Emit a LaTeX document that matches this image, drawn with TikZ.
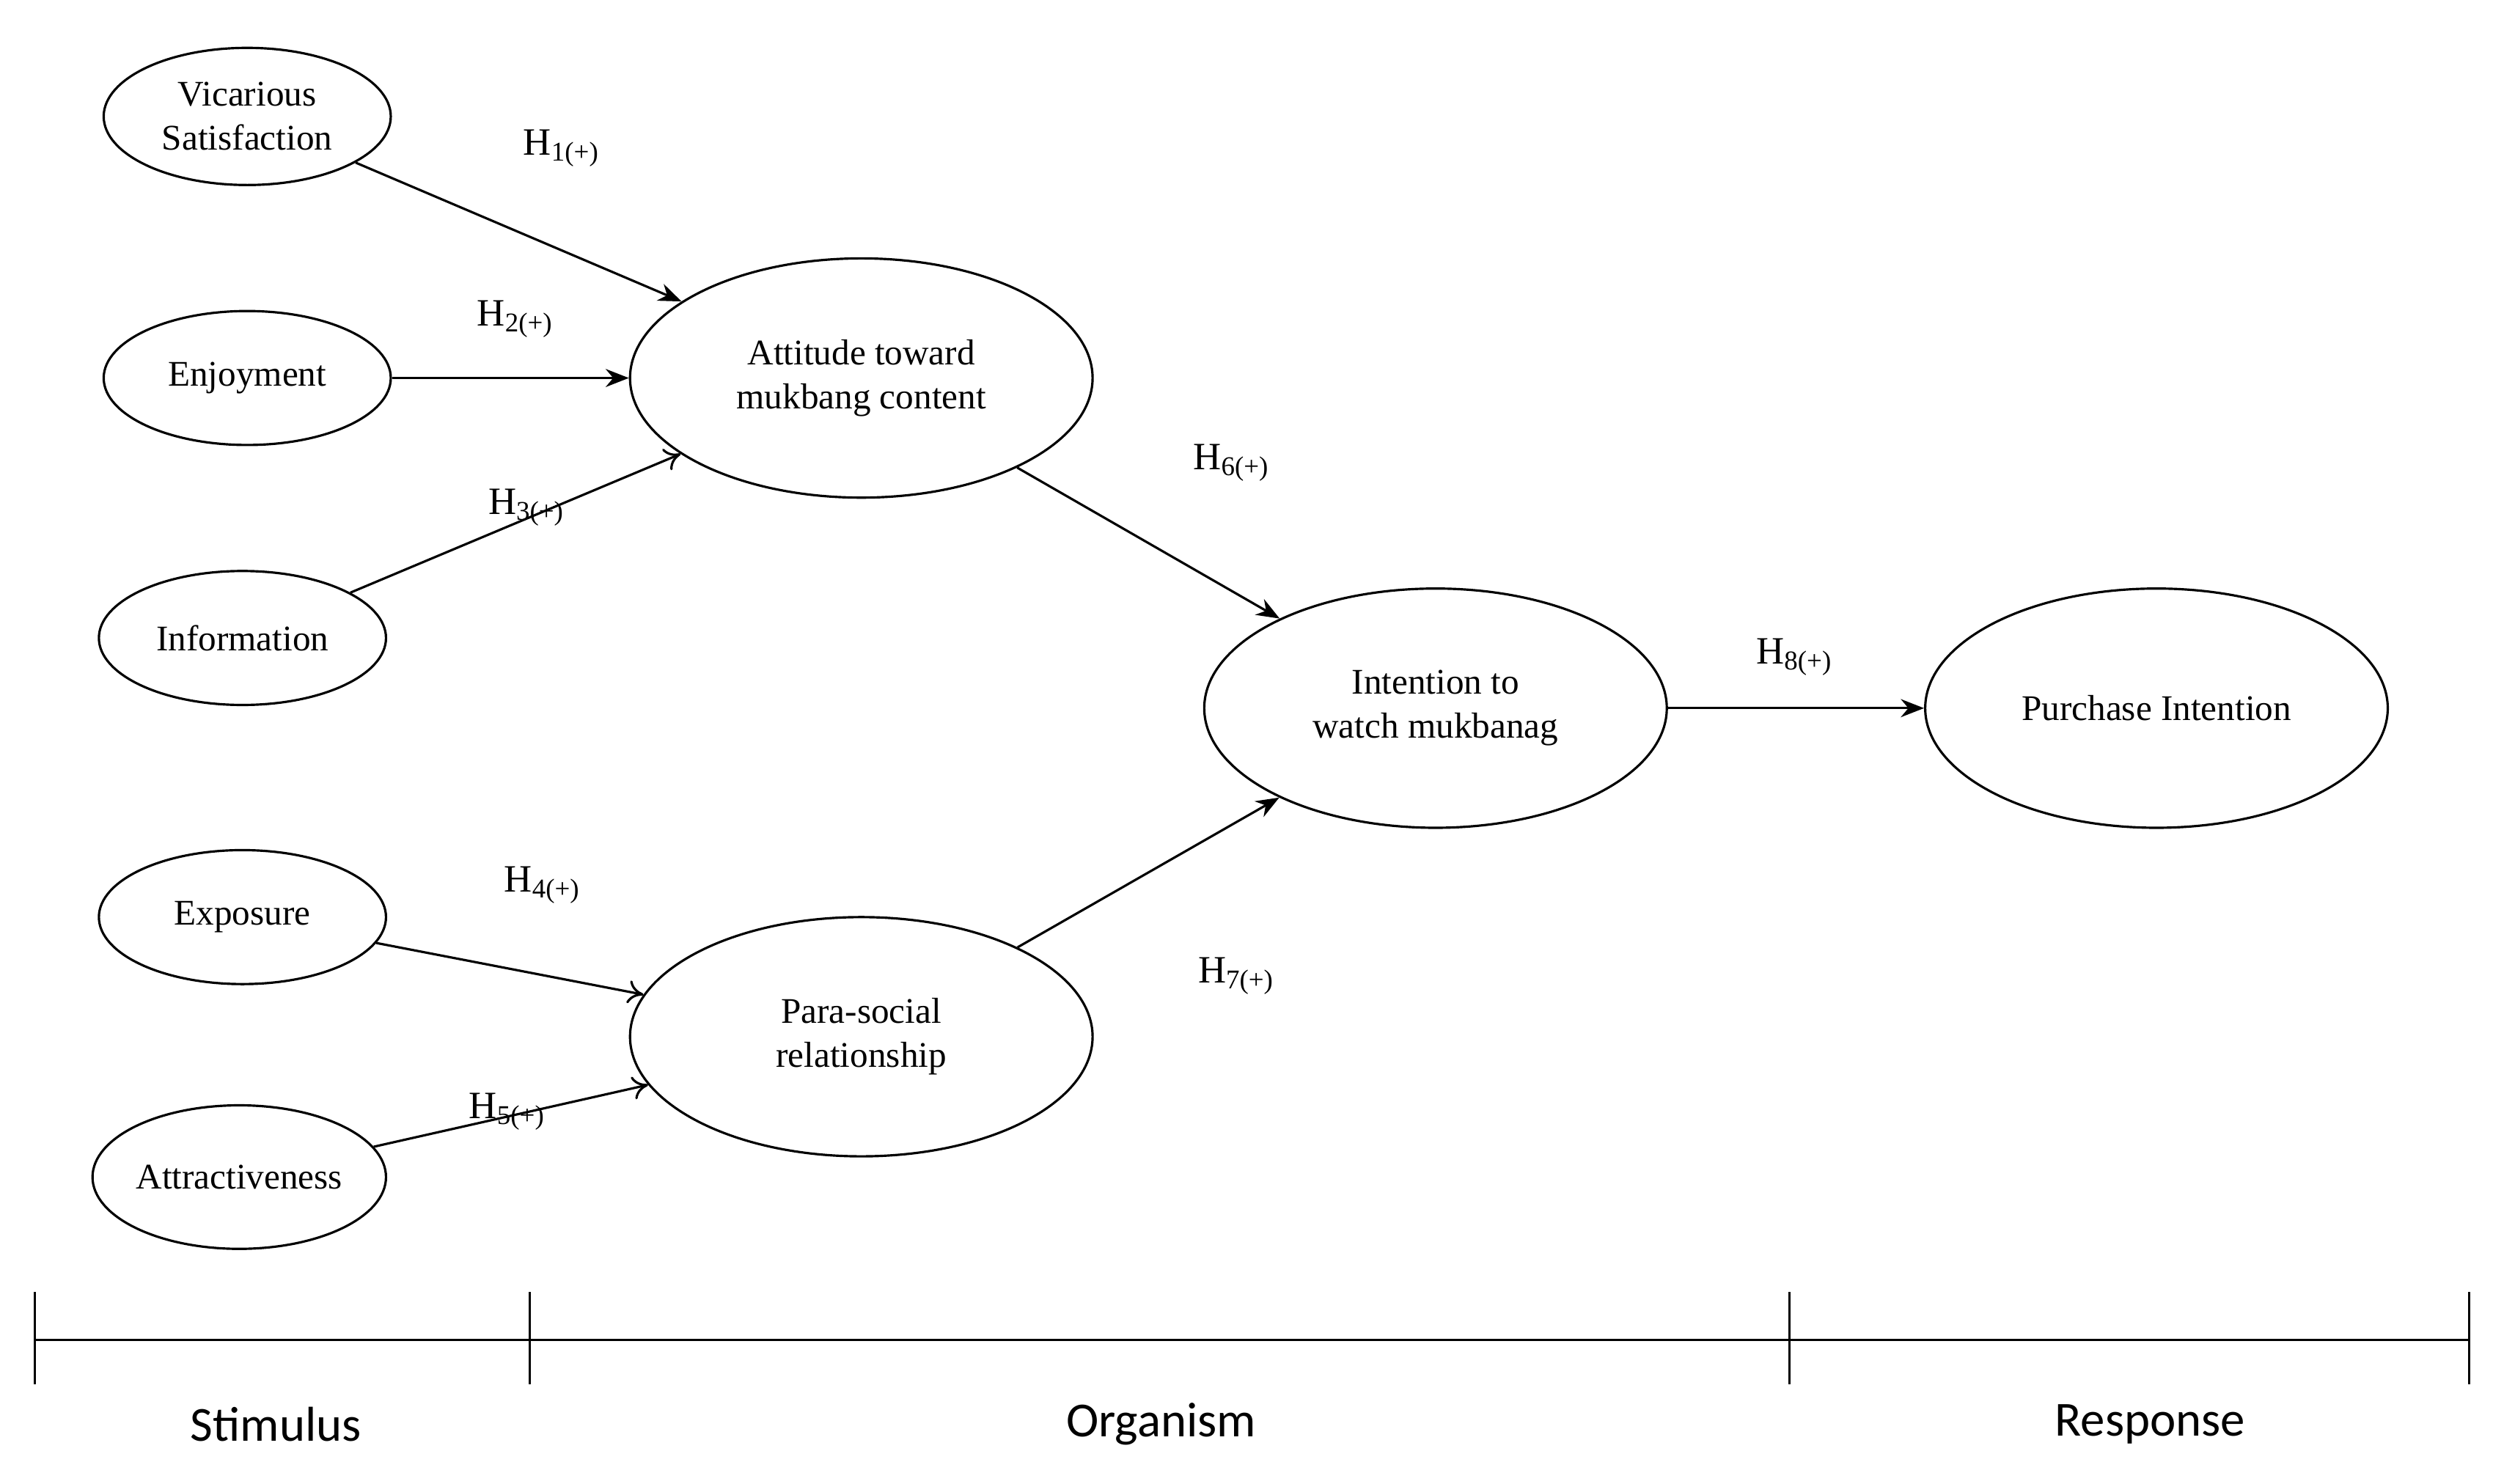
\documentclass[tikz,border=0pt]{standalone}
\usepackage{fontspec}
\setmainfont{Liberation Serif}
\newfontfamily\lblfont{Carlito}
\usetikzlibrary{arrows.meta,shapes.geometric}
\begin{document}
\begin{tikzpicture}[x=0.02175cm,y=-0.02175cm,
  sm/.style={draw,ellipse,line width=0.9pt,align=center,font=\fontsize{14}{17}\selectfont,inner sep=0pt},
  arr/.style={line width=0.9pt,-{Stealth[length=9pt,width=7pt]}},
  arro/.style={line width=0.9pt,-{To[length=6pt,width=9pt]}},
  hl/.style={font=\fontsize{15}{18}\selectfont},
  ax/.style={line width=0.9pt},
  cat/.style={font=\lblfont\fontsize{19}{22}\selectfont}]
\useasboundingbox (0,0) rectangle (1563,930);
\def\sm#1#2#3#4#5{\node[sm,minimum width=#4*0.02175cm,minimum height=#5*0.02175cm] (#1) at #2 {#3};}
\sm{v}{(155,73)}{Vicarious\\Satisfaction}{180}{86}
\sm{e}{(155,237)}{Enjoyment}{180}{84}
\sm{i}{(152,400)}{Information}{180}{84}
\sm{x}{(152,575)}{Exposure}{180}{84}
\sm{t}{(150,738)}{Attractiveness}{184}{90}
\sm{a}{(540,237)}{Attitude toward\\mukbang content}{290}{150}
\sm{p}{(540,650)}{Para-social\\relationship}{290}{150}
\sm{w}{(900,444)}{Intention to\\watch mukbanag}{290}{150}
\sm{r}{(1352,444)}{Purchase Intention}{290}{150}
\draw[arr] (v) -- (a);
\draw[arr] (e) -- (a);
\draw[arro] (i) -- (a);
\draw[arro] (x) -- (p);
\draw[arro] (t) -- (p);
\draw[arr] (a) -- (w);
\draw[arr] (p) -- (w);
\draw[arr] (w) -- (r);
\node[hl] (h1) at (352,93) {H\textsubscript{1(+)}};
\node[hl] (h2) at (323,200) {H\textsubscript{2(+)}};
\node[hl] (h3) at (330,318) {H\textsubscript{3(+)}};
\node[hl] (h4) at (340,555) {H\textsubscript{4(+)}};
\node[hl] (h5) at (318,697) {H\textsubscript{5(+)}};
\node[hl] (h6) at (772,290) {H\textsubscript{6(+)}};
\node[hl] (h7) at (775,612) {H\textsubscript{7(+)}};
\node[hl] (h8) at (1125,412) {H\textsubscript{8(+)}};
\coordinate (l0) at (22,840); \coordinate (l1) at (1548,840);
\draw[ax] (l0) -- (l1);
\foreach \xx in {22,332,1122,1548} \draw[ax] (\xx,810) -- (\xx,868);
\node[cat] (s1) at (173,893) {Stimulus};
\node[cat] (s2) at (728,893) {Organism};
\node[cat] (s3) at (1348,893) {Response};
\end{tikzpicture}
\end{document}
